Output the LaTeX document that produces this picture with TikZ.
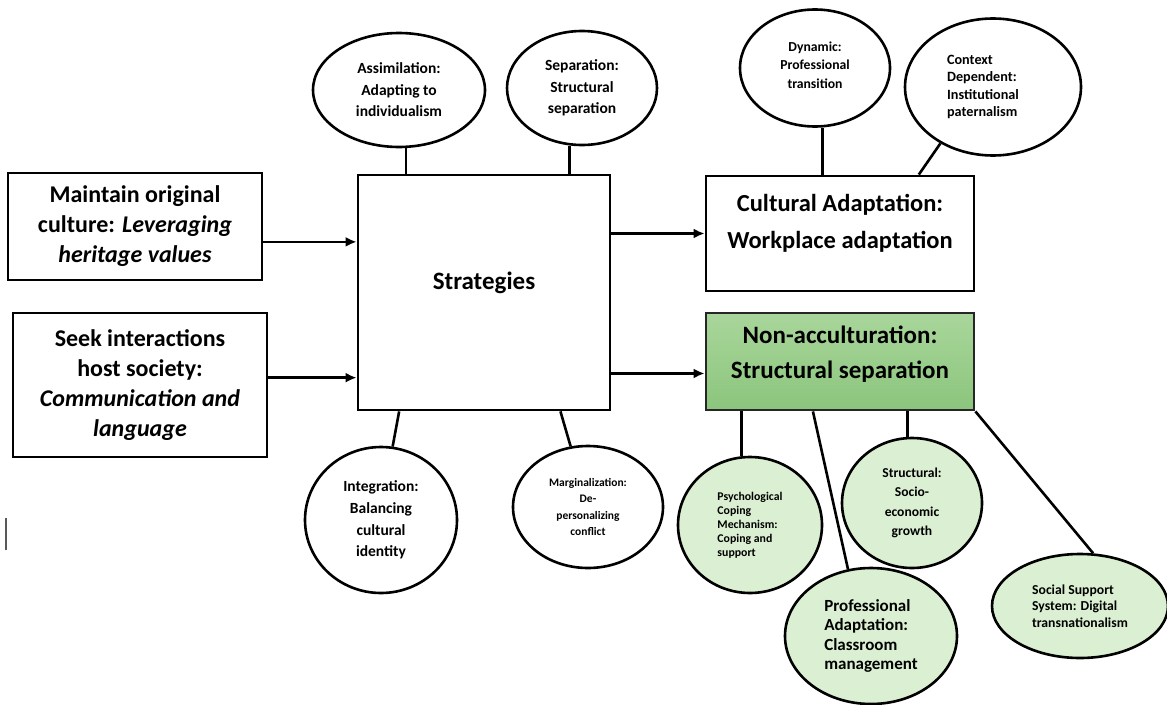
\documentclass[tikz,border=0pt]{standalone}
\usepackage{fontspec}
\setmainfont{Carlito}
\usetikzlibrary{shapes.geometric,arrows.meta,calc}
\definecolor{gfill}{HTML}{DBF0D2}
\definecolor{gtop}{HTML}{A9D69B}
\definecolor{gbot}{HTML}{8BC57D}
\newcommand{\fs}[2]{\fontsize{#1}{#2}\selectfont}
\tikzset{
  box/.style={draw=black, line width=2.8pt, rectangle, inner sep=0pt, align=center, font=\bfseries},
  oval/.style={draw=black, line width=2.6pt, ellipse, inner sep=0pt, align=center, font=\bfseries},
  goval/.style={oval, fill=gfill},
  link/.style={line width=2.6pt},
  arr/.style={line width=2.6pt, -{Latex[length=11pt,width=10pt]}},
}
\begin{document}
\begin{tikzpicture}[x=1pt,y=-1pt]
\useasboundingbox (0,0) rectangle (1167,704);
% main boxes
\node[box, minimum width=254pt, minimum height=107pt, font=\bfseries\fs{24}{30}] (maint) at (135,226.5)
  {Maintain original\\ culture: \textit{Leveraging}\\ \textit{heritage values}};
\node[box, minimum width=254pt, minimum height=144pt, font=\bfseries\fs{24}{30}] (seek) at (140,385)
  {Seek interactions\\ host society:\\ \textit{Communication and}\\ \textit{language}};
\node[box, minimum width=252pt, minimum height=235pt] (strat) at (484,292.5) {};
\node[font=\bfseries\fs{25}{28}] (strattext) at (484,283) {Strategies};
\node[box, minimum width=268pt, minimum height=115pt] (ca) at (840,233.5) {};
\node[align=center, font=\bfseries\fs{24.5}{37}] (catext) at (840,223.5) {Cultural Adaptation:\\ Workplace adaptation};
\node[box, draw=black!85, minimum width=268pt, minimum height=97pt, top color=gtop, bottom color=gbot] (na) at (840,361.5) {};
\node[align=center, font=\bfseries\fs{25}{35}] (natext) at (840,354.5) {Non-acculturation:\\ Structural separation};
% arrows
\coordinate (pa) at ($(maint.south east)!0.36!(maint.north east)$);
\coordinate (pb) at ($(seek.south east)!0.55!(seek.north east)$);
\coordinate (pn) at ($(na.south west)!0.38!(na.north west)$);
\draw[arr] (pa) -- (pa -| strat.west);
\draw[arr] (pb) -- (pb -| strat.west);
\draw[arr] (ca.west -| strat.east) -- (ca.west);
\draw[arr] (pn -| strat.east) -- (pn);
% top ellipses
\node[oval, minimum width=172pt, minimum height=114pt, font=\bfseries\fs{15.5}{21.5}] (assim) at (399,90)
  {Assimilation:\\ Adapting to\\ individualism};
\node[oval, minimum width=150pt, minimum height=114pt, font=\bfseries\fs{15.5}{21.5}] (sep) at (582,88)
  {Separation:\\ Structural\\ separation};
\node[oval, minimum width=150pt, minimum height=117pt,
  label={[align=center, font=\bfseries\fs{13.7}{18.5}, yshift=3pt]center:Dynamic:\\ Professional\\ transition}] (dyn) at (815,68) {};
\node[oval, minimum width=176pt, minimum height=137pt,
  label={[align=left, font=\bfseries\fs{14.2}{17.3}, xshift=-10pt]center:Context\\ Dependent:\\ Institutional\\ paternalism}] (ctx) at (993,87) {};
\draw[link] (assim.-83) -- (assim.-83 |- strat.north);
\draw[link] (sep.-102) -- (sep.-102 |- strat.north);
\draw[link] (dyn.-83) -- (dyn.-83 |- ca.north);
\draw[link] (ctx.-133) -- ($(ca.north west)!0.791!(ca.north east)$);
% bottom ellipses
\node[oval, minimum width=152pt, minimum height=146pt, font=\bfseries\fs{15.5}{21.7}] (integ) at (381,520)
  {Integration:\\ Balancing\\ cultural\\ identity};
\node[oval, minimum width=150pt, minimum height=122pt, font=\bfseries\fs{11.5}{16.6}] (marg) at (588,507)
  {Marginalization:\\ De-\\ personalizing\\ conflict};
\draw[link] ($(strat.south west)!0.167!(strat.south east)$) -- (integ.81);
\draw[link] ($(strat.south west)!0.80!(strat.south east)$) -- (marg.106);
% green ellipses
\node[goval, minimum width=144pt, minimum height=136pt, align=left, font=\bfseries\fs{11.8}{14}] (psy) at (750,525)
  {Psychological\\ Coping\\ Mechanism:\\ Coping and\\ support};
\node[goval, minimum width=172pt, minimum height=136pt, align=left, font=\bfseries\fs{17}{19.5}] (prof) at (871,636)
  {Professional\\ Adaptation:\\ Classroom\\ management};
\node[goval, minimum width=140pt, minimum height=130pt, font=\bfseries\fs{13.6}{19.5}] (struc) at (912,503)
  {Structural:\\ Socio-\\ economic\\ growth};
\node[goval, minimum width=176pt, minimum height=104pt, align=left, font=\bfseries\fs{13.7}{16.5}] (soc) at (1080,606)
  {Social Support\\ System: Digital\\ transnationalism};
\draw[link] (psy.97.5) -- (psy.97.5 |- na.south);
\draw[link] ($(na.south west)!0.40!(na.south east)$) -- (prof.109);
\draw[link] (struc.94.4) -- (struc.94.4 |- na.south);
\draw[link] (na.south east) -- (soc.76.8);
% stray cursor mark
\draw[line width=1.6pt, black!65] (6,518) -- (6,550);
\end{tikzpicture}
\end{document}
